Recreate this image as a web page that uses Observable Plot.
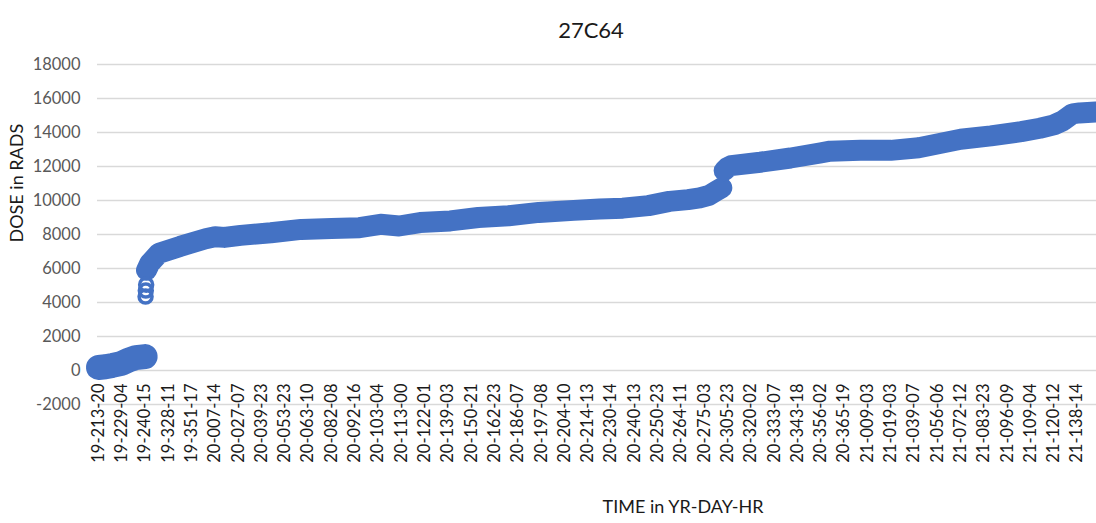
<!DOCTYPE html>
<html>
<head>
<meta charset="utf-8">
<script src="https://cdn.jsdelivr.net/npm/d3@7"></script>
<script src="https://cdn.jsdelivr.net/npm/@observablehq/plot@0.6"></script>
<style>
  html, body { margin: 0; padding: 0; background: #fff; }
  #chart svg { display: block; }
</style>
</head>
<body>
<div id="chart"></div>
<script>
// Category tick labels (one every labelStep samples)
const labels = [
  "19-213-20","19-229-04","19-240-15","19-328-11","19-351-17",
  "20-007-14","20-027-07","20-039-23","20-053-23","20-063-10","20-082-08","20-092-16",
  "20-103-04","20-113-00","20-122-01","20-139-03","20-150-21","20-162-23","20-186-07",
  "20-197-08","20-204-10","20-214-13","20-230-14","20-240-13","20-250-23","20-264-11",
  "20-275-03","20-305-23","20-320-02","20-333-07","20-343-18","20-356-02","20-365-19",
  "21-009-03","21-019-03","21-039-07","21-056-06","21-072-12","21-083-23","21-096-09",
  "21-109-04","21-120-12","21-138-14"
];
const labelStep = 10;

// Dose readings (sample index along the category axis, RADS)
const lowSample = [0, 3, 6, 10, 13, 16, 20];
const lowDose   = [180, 220, 300, 420, 620, 760, 820];

const jumpSample = [20.2, 20.3, 20.45];
const jumpDose   = [4350, 4700, 5050];

const midSample = [20.6, 22, 26, 35, 46, 50, 54, 61, 74, 87, 100, 112, 121, 129, 138, 151, 163, 176, 189, 204, 215, 225, 236, 245, 253, 258, 262, 265, 267.5];
const midDose   = [5900, 6300, 6900, 7300, 7750, 7870, 7830, 7950, 8100, 8300, 8350, 8400, 8600, 8500, 8700, 8800, 9000, 9100, 9300, 9420, 9500, 9550, 9700, 9950, 10050, 10150, 10300, 10550, 10750];

const highSample = [268.5, 270, 271.5, 284, 297, 310, 314, 327, 340, 352, 361, 370, 383, 396, 404, 410, 414, 418, 421, 428];
const highDose   = [11750, 11950, 12050, 12250, 12500, 12800, 12900, 12950, 12950, 13100, 13350, 13600, 13800, 14050, 14250, 14450, 14700, 15100, 15150, 15200];

const yTicks = [-2000, 0, 2000, 4000, 6000, 8000, 10000, 12000, 14000, 16000, 18000];

const title = "27C64";
const xTitle = "TIME in YR-DAY-HR";
const yTitle = "DOSE in RADS";

const color = "#4472C4";

const toRows = (xs, ys) => xs.map((x, i) => ({sample: x, dose: ys[i]}));
const low = toRows(lowSample, lowDose);
const main = [...toRows(midSample, midDose).map(d => ({...d, seg: "b"})),
              ...toRows(highSample, highDose).map(d => ({...d, seg: "c"}))];
const jumps = toRows(jumpSample, jumpDose);

const chart = Plot.plot({
  width: 1096,
  height: 523,
  marginLeft: 97,
  marginRight: 0,
  marginTop: 64,
  marginBottom: 119,
  style: {fontFamily: "Lato, 'Open Sans', sans-serif", background: "#fff"},
  x: {domain: [-0.43, 428.3], axis: null},
  y: {domain: [-2000, 18000], axis: null},
  marks: [
    Plot.ruleY(yTicks, {stroke: "#d9d9d9", strokeWidth: 1.4}),
    Plot.axisY({ticks: yTicks, tickSize: 0, tickPadding: 17, label: null,
      tickFormat: d => String(d), fontSize: 16.5, color: "#595959"}),
    Plot.text(labels, {x: (d, i) => i * labelStep, y: 0, dy: 13, rotate: -90,
      textAnchor: "end", fontSize: 16.5, fill: "#1a1a1a"}),
    Plot.line(low, {x: "sample", y: "dose", stroke: color,
      strokeWidth: 25, strokeLinecap: "round", strokeLinejoin: "round"}),
    Plot.line(main, {x: "sample", y: "dose", z: "seg", stroke: color,
      strokeWidth: 21, strokeLinecap: "round", strokeLinejoin: "round"}),
    Plot.dot(jumps, {x: "sample", y: "dose", r: 6.5, stroke: color, strokeWidth: 3.5, fill: "none"}),
    Plot.text([title], {frameAnchor: "top", dx: -6, dy: -42, fontSize: 22, fill: "#1a1a1a"}),
    Plot.text([yTitle], {frameAnchor: "left", dx: -80, dy: 8, rotate: -90, fontSize: 18, fill: "#1a1a1a"}),
    Plot.text([xTitle], {frameAnchor: "bottom", dx: 86, dy: 108, fontSize: 18, fill: "#1a1a1a"})
  ]
});
document.getElementById("chart").appendChild(chart);
</script>
</body>
</html>
